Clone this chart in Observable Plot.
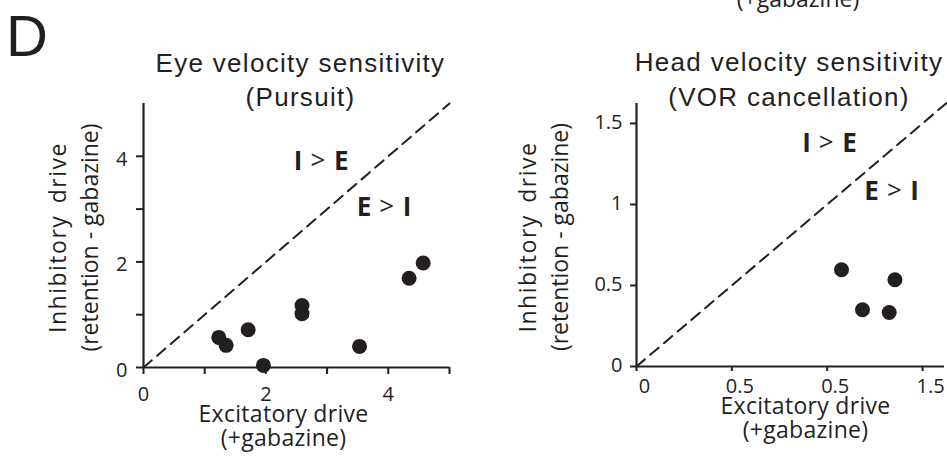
<!DOCTYPE html>
<html><head><meta charset="utf-8">
<script src="https://cdn.jsdelivr.net/npm/d3@7"></script>
<script src="https://cdn.jsdelivr.net/npm/@observablehq/plot@0.6"></script>
<style>
body{margin:0;background:#fff;}
#wrap{position:relative;width:947px;height:459px;overflow:hidden;background:#fff;}
#wrap svg{position:absolute;top:0;overflow:visible;}
</style></head><body><div id="wrap"></div>
<script>
// ---- text ----
const panelLetter = "D";
const panelTitles = ["Eye velocity sensitivity\n(Pursuit)", "Head velocity sensitivity\n(VOR cancellation)"];
const xTitle = "Excitatory drive\n(+gabazine)";
const yTitle = "Inhibitory drive\n(retention - gabazine)";
const clippedTitle = "(+gabazine)";

// ---- data: pursuit (eye velocity) ----
const pursuitExc = [1.23, 1.35, 1.71, 1.96, 2.59, 2.59, 3.53, 4.34, 4.57];
const pursuitInh = [0.57, 0.42, 0.715, 0.04, 1.175, 1.02, 0.40, 1.69, 1.98];
// ---- data: VOR cancellation (head velocity) ----
const vorExc = [1.075, 1.185, 1.325, 1.355];
const vorInh = [0.597, 0.35, 0.333, 0.535];

// ---- ticks ----
const pursuitXTicks = [0, 1, 2, 3, 4, 5];
const pursuitXLabels = ["0", "", "2", "", "4", ""];
const pursuitYTicks = [0, 1, 2, 3, 4];
const pursuitYLabels = ["0", "", "2", "", "4"];
const vorTicks = [0, 0.5, 1, 1.5];
const vorXLabels = ["0", "0.5", "0.5", "1.5"];
const vorYLabels = ["0", "0.5", "1", "1.5"];

// ---- region labels ----
const regionLeft = ["I", "E"];
const regionMid = [">", ">"];
const regionRight = ["E", "I"];
const pursuitRegionX = [2.85, 3.975];
const pursuitRegionY = [3.745, 2.86];
const vorRegionX = [0.995, 1.352];
const vorRegionY = [1.323, 1.025];

// ---- domains ----
const pursuitDomain = [0, 5];
const vorXDomain = [0, 1.615];
const vorYDomain = [0, 1.623];

const ink = "#231f20";
const sans = "'Open Sans', sans-serif";
const helv = "'Liberation Sans', Arial, sans-serif";

function panel(c) {
  const marks = [
    Plot.line(c.diag, {x: d => d, y: d => d, stroke: ink, strokeWidth: 2, strokeDasharray: "11,7"}),
    Plot.ruleY([0], {stroke: ink, strokeWidth: 2.2}),
    Plot.ruleX([0], {stroke: ink, strokeWidth: 2.2}),
    Plot.axisX({ticks: c.xTicks, tickSize: c.xTickSize, tickFormat: () => "", strokeWidth: 2, label: null}),
    Plot.axisX({ticks: c.xTicks, tickSize: 0, tickPadding: c.xPad, dx: c.xLabelDx,
      tickFormat: d => c.xLabels[c.xTicks.indexOf(d)], fontSize: 20, label: null}),
    Plot.axisY({ticks: c.yTicks, tickSize: c.yTickSize, tickFormat: () => "", strokeWidth: 2, label: null}),
    Plot.axisY({ticks: c.yTicks, tickSize: 0, tickPadding: c.yPad, dy: c.yLabelDy,
      tickFormat: d => c.yLabels[c.yTicks.indexOf(d)], fontSize: 20, label: null}),
    Plot.dot(c.exc, {x: c.exc, y: c.inh, r: 7.5, fill: ink, stroke: "none"}),
    Plot.text(c.rx, {x: c.rx, y: c.ry, text: (d, i) => regionMid[i], lineAnchor: "bottom",
      fontSize: 26, fontFamily: sans, fill: ink, dy: -1}),
    Plot.text(c.rx, {x: c.rx, y: c.ry, text: (d, i) => regionLeft[i], lineAnchor: "bottom",
      textAnchor: "end", dx: -15.5, fontSize: 26, fontWeight: "bold", fontFamily: sans, fill: ink}),
    Plot.text(c.rx, {x: c.rx, y: c.ry, text: (d, i) => regionRight[i], lineAnchor: "bottom",
      textAnchor: "start", dx: 16, fontSize: 26, fontWeight: "bold", fontFamily: sans, fill: ink}),
    Plot.text([c.title], {text: d => d, frameAnchor: "top", textAnchor: "middle", lineAnchor: "bottom",
      lineHeight: c.titleLH, dx: c.titleDx, dy: c.titleDy, fontSize: 26, fontFamily: helv, fill: ink}),
    Plot.text([xTitle], {text: d => d, frameAnchor: "bottom", textAnchor: "middle", lineAnchor: "bottom",
      lineHeight: 1.04, dx: c.xtDx, dy: c.xtDy, fontSize: 23, fontFamily: sans, fill: ink}),
    Plot.text([yTitle], {text: d => d, frameAnchor: "left", textAnchor: "middle", lineAnchor: "bottom",
      rotate: -90, lineHeight: 1.39, dx: c.ytDx, dy: 2, fontSize: 23, fontFamily: sans, fill: ink}),
    ...(c.extra || [])
  ];
  const svg = Plot.plot({
    width: c.width, height: 459,
    marginLeft: c.ml, marginRight: c.mr, marginTop: c.mt, marginBottom: c.mb,
    x: {domain: c.xDomain}, y: {domain: c.yDomain},
    style: {fontFamily: sans, color: ink, background: "transparent", overflow: "visible"},
    marks
  });
  svg.style.left = c.left + "px";
  const firstLine = c.title.split("\n")[0];
  d3.select(svg).selectAll("text")
    .filter(function() { return this.textContent.startsWith(firstLine); })
    .style("letter-spacing", "1.3px");
  d3.select(svg).selectAll("text")
    .filter(function() { return this.textContent.startsWith("Excitatory"); })
    .style("letter-spacing", "0.3px");
  const yFirst = yTitle.split("\n")[0];
  d3.select(svg).selectAll("tspan")
    .filter(function() { return this.textContent === yFirst; })
    .style("letter-spacing", "1.5px").style("word-spacing", "4px");
  return svg;
}

const wrap = document.getElementById("wrap");
wrap.appendChild(panel({
  left: 0, width: 470, ml: 143, mr: 21, mt: 103, mb: 92,
  xDomain: pursuitDomain, yDomain: pursuitDomain, diag: pursuitDomain,
  xTicks: pursuitXTicks, xLabels: pursuitXLabels, yTicks: pursuitYTicks, yLabels: pursuitYLabels,
  xTickSize: 7, xPad: 19, xLabelDx: 0, yTickSize: 7, yPad: 16, yLabelDy: 3,
  exc: pursuitExc, inh: pursuitInh, rx: pursuitRegionX, ry: pursuitRegionY,
  title: panelTitles[0], titleLH: 1.27, titleDx: 4, titleDy: 2,
  xtDx: -13, xtDy: 78.7, ytDx: -46,
  extra: [
    Plot.text([panelLetter], {text: d => d, frameAnchor: "top-left", textAnchor: "start", lineAnchor: "bottom",
      dx: -137.5, dy: -48, fontSize: 58, fontFamily: helv, fill: ink})
  ]
}));
wrap.appendChild(panel({
  left: 470, width: 477, ml: 166, mr: 3, mt: 103, mb: 93,
  xDomain: vorXDomain, yDomain: vorYDomain, diag: [0, 1.63],
  xTicks: vorTicks, xLabels: vorXLabels, yTicks: vorTicks, yLabels: vorYLabels,
  xTickSize: 5, xPad: 12, xLabelDx: 8, yTickSize: 6, yPad: 14, yLabelDy: -1,
  exc: vorExc, inh: vorInh, rx: vorRegionX, ry: vorRegionY,
  title: panelTitles[1], titleLH: 1.365, titleDx: -1.5, titleDy: 2.5,
  xtDx: 15, xtDy: 71, ytDx: -69,
  extra: [
    Plot.text([clippedTitle], {text: d => d, frameAnchor: "top", textAnchor: "middle", lineAnchor: "bottom",
      dx: 7.5, dy: -97, fontSize: 23, fontFamily: sans, fill: ink})
  ]
}));
</script></body></html>
